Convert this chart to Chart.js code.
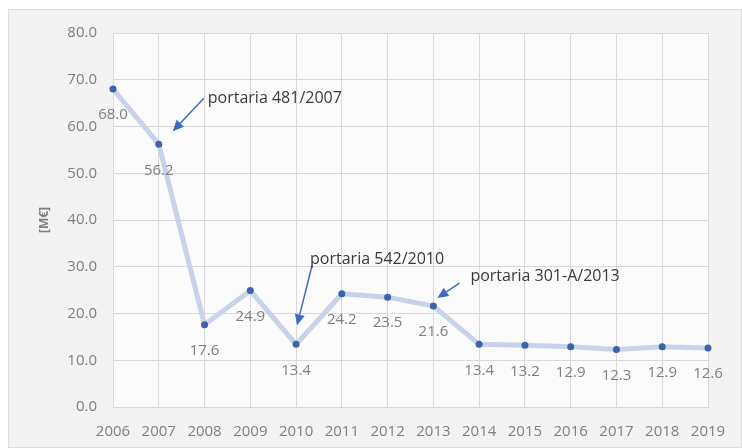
<!DOCTYPE html>
<html>
<head>
<meta charset="utf-8">
<script src="https://cdn.jsdelivr.net/npm/chart.js@4/dist/chart.umd.min.js"></script>
<style>
  html, body { margin: 0; padding: 0; background: #ffffff; }
  #wrap { width: 742px; height: 448px; }
</style>
</head>
<body>
<div id="wrap"><canvas id="c" width="742" height="448"></canvas></div>
<script>
// Yearly cost, in M€
const years = ['2006', '2007', '2008', '2009', '2010', '2011', '2012', '2013', '2014', '2015', '2016', '2017', '2018', '2019'];
const costs = [68.0, 56.2, 17.6, 24.9, 13.4, 24.2, 23.5, 21.6, 13.4, 13.2, 12.9, 12.3, 12.9, 12.6];

// Y axis range and step
const yMin = 0;
const yMax = 80;
const yStep = 10;

// Regulatory notes and the year each one points to
const noteYears = ['2007', '2010', '2013'];
const noteTexts = ['portaria 481/2007', 'portaria 542/2010', 'portaria 301-A/2013'];

const FONT = '"Open Sans", "DejaVu Sans", sans-serif';

// Arrow layout relative to the pointed point: tail offset, head offset, text offset from the tail
const noteLayout = [
  { tail: [45, -46], head: [14, -13], text: [4, 0] },
  { tail: [16, -79], head: [1, -19], text: [-2, -6] },
  { tail: [26, -23], head: [4, -8], text: [11, -7] }
];

const backdrop = {
  id: 'backdrop',
  beforeDraw(chart) {
    const { ctx, chartArea: a } = chart;
    ctx.save();
    ctx.fillStyle = '#ffffff';
    ctx.fillRect(0, 0, chart.width, chart.height);
    ctx.fillStyle = '#f3f3f3';
    ctx.fillRect(8, 9, chart.width - 8, chart.height - 9);
    ctx.strokeStyle = '#dedede';
    ctx.lineWidth = 1;
    ctx.strokeRect(8.5, 9.5, chart.width - 9, chart.height - 10);
    ctx.fillStyle = '#fbfbfb';
    ctx.fillRect(a.left, a.top, a.right - a.left, a.bottom - a.top);
    ctx.restore();
  }
};

const valueLabels = {
  id: 'valueLabels',
  afterDatasetsDraw(chart) {
    const { ctx } = chart;
    const meta = chart.getDatasetMeta(0);
    ctx.save();
    ctx.font = '15px ' + FONT;
    ctx.fillStyle = '#7f7f7f';
    ctx.textAlign = 'center';
    ctx.textBaseline = 'middle';
    meta.data.forEach((pt, i) => {
      ctx.fillText(costs[i].toFixed(1), pt.x, pt.y + 26);
    });
    ctx.restore();
  }
};

const notes = {
  id: 'notes',
  afterDatasetsDraw(chart) {
    const { ctx } = chart;
    const meta = chart.getDatasetMeta(0);
    ctx.save();
    noteYears.forEach((yr, k) => {
      const pt = meta.data[years.indexOf(yr)];
      const L = noteLayout[k];
      const tx = pt.x + L.tail[0], ty = pt.y + L.tail[1];
      const hx = pt.x + L.head[0], hy = pt.y + L.head[1];
      const ang = Math.atan2(hy - ty, hx - tx);
      const headLen = 11, headW = 5;
      const bx = hx - headLen * Math.cos(ang), by = hy - headLen * Math.sin(ang);
      ctx.strokeStyle = '#3f6bbd';
      ctx.fillStyle = '#3f6bbd';
      ctx.lineWidth = 1.5;
      ctx.beginPath();
      ctx.moveTo(tx, ty);
      ctx.lineTo(bx, by);
      ctx.stroke();
      ctx.beginPath();
      ctx.moveTo(hx, hy);
      ctx.lineTo(bx + headW * Math.sin(ang), by - headW * Math.cos(ang));
      ctx.lineTo(bx - headW * Math.sin(ang), by + headW * Math.cos(ang));
      ctx.closePath();
      ctx.fill();
      ctx.font = '16px ' + FONT;
      ctx.fillStyle = '#3a3a3a';
      ctx.textAlign = 'left';
      ctx.textBaseline = 'middle';
      ctx.fillText(noteTexts[k], tx + L.text[0], ty + L.text[1]);
    });
    ctx.restore();
  }
};

new Chart(document.getElementById('c'), {
  type: 'line',
  data: {
    labels: years,
    datasets: [{
      data: costs,
      borderColor: '#c8d3ea',
      borderWidth: 5,
      pointRadius: 3.5,
      pointBackgroundColor: '#3d63aa',
      pointBorderColor: '#3d63aa',
      pointBorderWidth: 0,
      tension: 0
    }]
  },
  options: {
    responsive: false,
    devicePixelRatio: 1,
    animation: false,
    layout: { padding: { top: 33, right: 34, bottom: 0, left: 0 } },
    plugins: { legend: { display: false }, tooltip: { enabled: false } },
    scales: {
      x: {
        offset: false,
        grid: { color: '#d9d9d9', drawTicks: false },
        border: { color: '#d9d9d9' },
        ticks: { color: '#7f7f7f', font: { family: FONT, size: 15 }, padding: 16, maxRotation: 0, autoSkip: false },
        afterFit(s) { s.height = 41; }
      },
      y: {
        min: yMin,
        max: yMax,
        grid: { color: '#d9d9d9', drawTicks: false },
        border: { color: '#d9d9d9' },
        ticks: {
          stepSize: yStep,
          color: '#7f7f7f',
          font: { family: FONT, size: 15 },
          padding: 16,
          callback: v => Number(v).toFixed(1)
        },
        title: {
          display: true,
          text: '[M€]',
          color: '#7f7f7f',
          font: { family: FONT, size: 12, weight: 'bold' },
          padding: { top: 37, bottom: 0 }
        },
        afterFit(s) { s.width = 113; }
      }
    }
  },
  plugins: [backdrop, valueLabels, notes]
});
</script>
</body>
</html>
